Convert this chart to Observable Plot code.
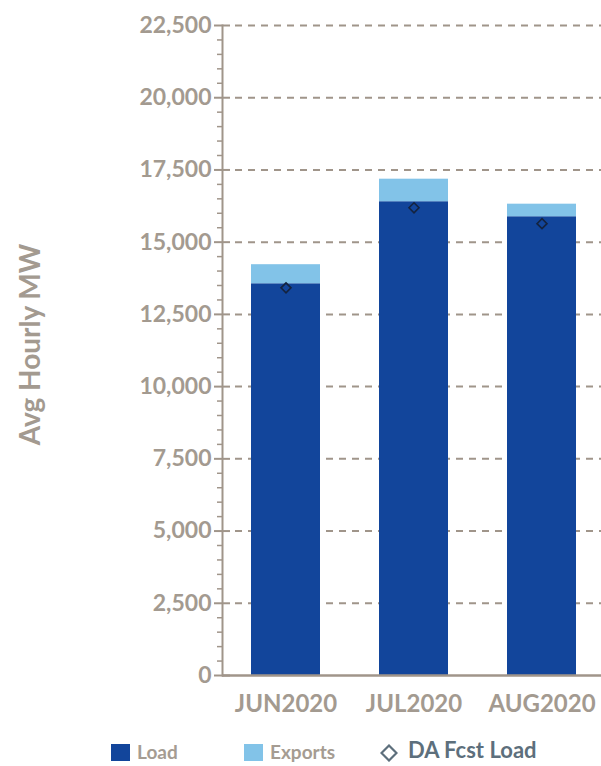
<!DOCTYPE html>
<html>
<head>
<meta charset="utf-8">
<script src="https://cdn.jsdelivr.net/npm/d3@7"></script>
<script src="https://cdn.jsdelivr.net/npm/@observablehq/plot@0.6"></script>
<style>
  html, body { margin: 0; padding: 0; background: #fff; width: 601px; height: 766px; overflow: hidden; }
  #chart { position: relative; width: 601px; height: 725px; }
  #legend { position: relative; width: 601px; height: 41px; font-family: Lato, "Open Sans", sans-serif; font-weight: 700; }
  .sw { position: absolute; width: 19px; height: 17px; top: 19px; }
  .lt { position: absolute; top: 14px; font-size: 19px; color: #a59c92; line-height: 26px; }
</style>
</head>
<body>
<div id="chart"></div>
<div id="legend">
  <div class="sw" style="left:111px; background:#12459b;"></div>
  <div class="lt" style="left:137px;">Load</div>
  <div class="sw" style="left:244px; background:#82c3e8;"></div>
  <div class="lt" style="left:270px;">Exports</div>
  <svg style="position:absolute; left:380px; top:19px;" width="18" height="18"><path d="M9 1.5 L16.5 9 L9 16.5 L1.5 9 Z" fill="none" stroke="#5d6f7c" stroke-width="2.2"/></svg>
  <div class="lt" style="left:408px; top:12px; font-size:22px; color:#5d6f7c;">DA Fcst Load</div>
</div>
<script>
const months = ["JUN2020", "JUL2020", "AUG2020"];
const loadMW = [13560, 16400, 15880];
const exportsMW = [660, 780, 435];
const daFcstMW = [13420, 16190, 15640];
const seriesNames = ["Load", "Exports"];
const seriesColors = ["#12459b", "#82c3e8"];
const yTicks = [0, 2500, 5000, 7500, 10000, 12500, 15000, 17500, 20000, 22500];
const yMinor = d3.range(0, 22501, 500).filter(v => v % 2500 !== 0);

const stackRows = [
  ...months.map((m, i) => ({month: m, series: "Load", value: loadMW[i]})),
  ...months.map((m, i) => ({month: m, series: "Exports", value: exportsMW[i]}))
];
const fcstRows = months.map((m, i) => ({month: m, value: daFcstMW[i]}));

const axisColor = "#a0958a";
const textColor = "#a39a90";
const W = 601, ML = 222;

const chart = Plot.plot({
  width: W, height: 725,
  marginLeft: ML, marginRight: 0, marginTop: 25, marginBottom: 50,
  x: {domain: months, range: [ML, ML + 384], paddingInner: 0.46, paddingOuter: 0.23},
  y: {domain: [0, 22500]},
  color: {domain: seriesNames, range: seriesColors},
  style: {fontFamily: "Lato, 'Open Sans', sans-serif", color: textColor, background: "white", overflow: "hidden"},
  marks: [
    Plot.ruleY(yTicks.filter(v => v > 0), {y: d => d, stroke: axisColor, strokeWidth: 2, strokeDasharray: "7,6", insetLeft: 13}),
    Plot.barY(stackRows, Plot.stackY({x: "month", y: "value", fill: "series", order: seriesNames})),
    Plot.dot(fcstRows, {x: "month", y: "value", symbol: "diamond2", r: 4.5, stroke: "#14233f", strokeWidth: 1.6}),
    Plot.ruleY(yTicks, {y: d => d, stroke: axisColor, strokeWidth: 2, insetRight: W - ML - 8}),
    Plot.axisY({ticks: yMinor, tickSize: 5, tickFormat: () => "", stroke: axisColor, strokeWidth: 1.5, label: null}),
    Plot.axisY({ticks: yTicks, tickSize: 8, tickPadding: 3, tickFormat: d3.format(","), fontSize: 23, fontWeight: "bold", stroke: axisColor, strokeWidth: 2, label: null}),
    Plot.frame({anchor: "left", stroke: axisColor, strokeWidth: 2}),
    Plot.ruleY([0], {stroke: axisColor, strokeWidth: 2.5}),
    Plot.axisX({tickSize: 0, tickPadding: 19, fontSize: 24, fontWeight: "bold", label: null}),
    Plot.text(["Avg Hourly MW"], {frameAnchor: "left", textAnchor: "middle", text: d => d, rotate: -90, dx: -191, dy: -6, fontSize: 28, fontWeight: "bold", fill: textColor})
  ]
});
document.getElementById("chart").appendChild(chart);
</script>
</body>
</html>
